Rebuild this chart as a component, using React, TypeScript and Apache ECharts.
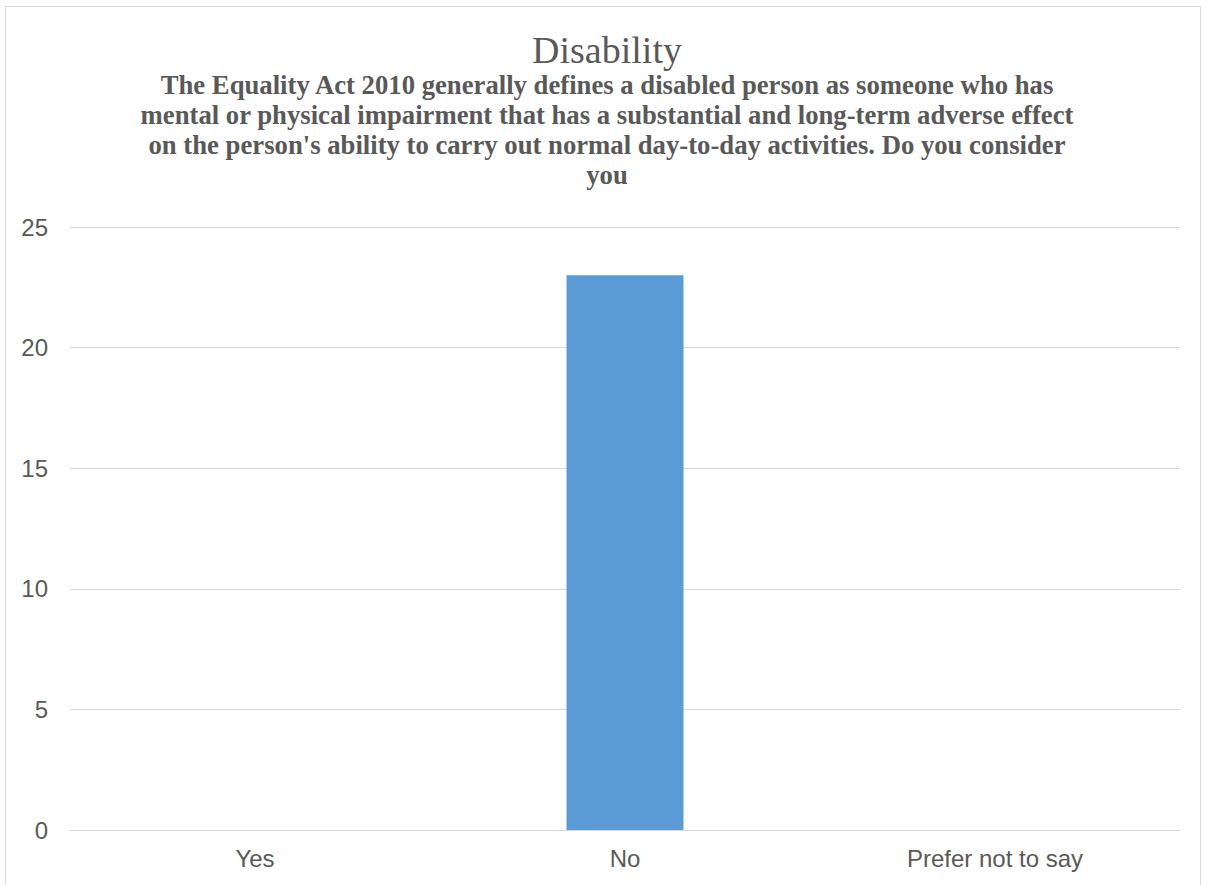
import React, { useEffect, useRef } from "react";
import * as echarts from "echarts";

const categories = ["Yes", "No", "Prefer not to say"];
const responses = [0, 23, 0];
const yTicks = { min: 0, max: 25, interval: 5 };
const titleText = "Disability";
const subtitleLines = [
  "The Equality Act 2010 generally defines a disabled person as someone who has",
  "mental or physical impairment that has a substantial and long-term adverse effect",
  "on the person's ability to carry out normal day-to-day activities. Do you consider",
  "you",
];

export default function App() {
  const ref = useRef<HTMLDivElement>(null);
  useEffect(() => {
    if (!ref.current) return;
    const chart = echarts.init(ref.current, null, { renderer: "svg" });
    chart.setOption({
      animation: false,
      backgroundColor: "#ffffff",
      title: [
        {
          text: titleText,
          left: 607,
          top: 31,
          textAlign: "center",
          textStyle: {
            fontFamily: "Liberation Serif",
            fontWeight: "normal",
            fontSize: 38,
            color: "#595959",
            lineHeight: 38,
          },
          padding: 0,
        },
        {
          text: subtitleLines.join("\n"),
          left: 607,
          top: 70,
          textAlign: "center",
          textStyle: {
            fontFamily: "Liberation Serif",
            fontWeight: "bold",
            fontSize: 26.7,
            color: "#595959",
            lineHeight: 30,
            align: "center",
          },
          padding: 0,
        },
      ],
      graphic: [
        {
          type: "rect",
          shape: { x: 5.5, y: 6.5, width: 1195, height: 900 },
          style: { fill: "none", stroke: "#d9d9d9", lineWidth: 1 },
          silent: true,
        },
      ],
      grid: { left: 70, right: 28, top: 227, bottom: 55, containLabel: false },
      xAxis: {
        type: "category",
        data: categories,
        axisLine: { show: true, lineStyle: { color: "#d9d9d9", width: 1 } },
        axisTick: { show: false },
        axisLabel: {
          color: "#595959",
          fontFamily: "Liberation Sans",
          fontSize: 24,
          margin: 16,
        },
      },
      yAxis: {
        type: "value",
        min: yTicks.min,
        max: yTicks.max,
        interval: yTicks.interval,
        axisLine: { show: false },
        axisTick: { show: false },
        splitLine: { lineStyle: { color: "#d9d9d9", width: 1 } },
        axisLabel: {
          color: "#595959",
          fontFamily: "Liberation Sans",
          fontSize: 24,
          margin: 22,
        },
      },
      series: [
        {
          type: "bar",
          data: responses,
          barWidth: 117,
          itemStyle: { color: "#5b9bd5" },
        },
      ],
    });
    return () => chart.dispose();
  }, []);
  return (
    <div
      ref={ref}
      style={{ position: "fixed", left: 0, top: 0, width: 1208, height: 885 }}
    />
  );
}
